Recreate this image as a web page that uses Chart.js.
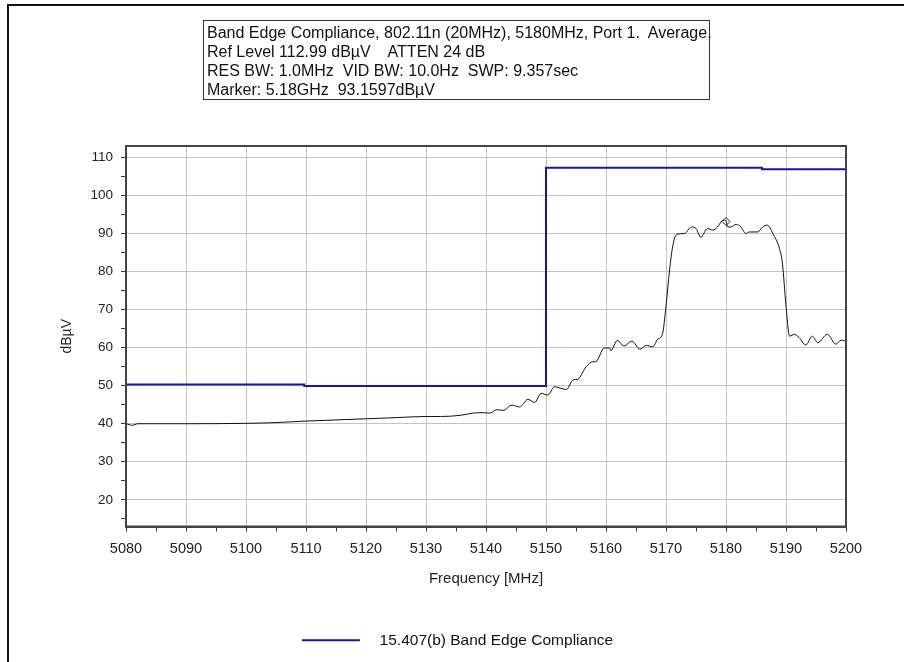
<!DOCTYPE html>
<html>
<head>
<meta charset="utf-8">
<script src="https://cdn.jsdelivr.net/npm/chart.js@4.4.1/dist/chart.umd.min.js"></script>
<style>
  html, body { margin: 0; padding: 0; background: #fff; }
  #wrap { position: relative; width: 904px; height: 662px; overflow: hidden; }
  #frame { position: absolute; left: 7px; top: 4px; width: 920px; height: 680px;
           border-top: 2px solid #111; border-left: 2px solid #111; }
  #info { position: absolute; left: 203px; top: 20px; width: 507px; height: 80px;
          box-sizing: border-box; border: 1px solid #333; padding: 2px 0 0 3px;
          font: 16px "Liberation Sans", Arial, sans-serif; line-height: 19px;
          color: #111; white-space: pre; }
  canvas { position: absolute; left: 0; top: 0; }
</style>
</head>
<body>
<div id="wrap">
  <div id="frame"></div>
  <canvas id="spectrum" width="904" height="662"></canvas>
  <div id="info"></div>
</div>
<script>
// header box of the analyser plot
const infoLines = [
  'Band Edge Compliance, 802.11n (20MHz), 5180MHz, Port 1.  Average.',
  'Ref Level 112.99 dBµV    ATTEN 24 dB',
  'RES BW: 1.0MHz  VID BW: 10.0Hz  SWP: 9.357sec',
  'Marker: 5.18GHz  93.1597dBµV'
];

const traceFreq = [
  5080, 5081, 5082, 5090, 5100, 5105, 5110, 5115, 5120, 5125,
  5130, 5132.4, 5135.7, 5137.9, 5139.5, 5140.7, 5141.8, 5142.9, 5144.3, 5145.6,
  5147.0, 5148.1, 5149.2, 5150.3, 5151.4, 5152.5, 5153.4, 5154.5, 5155.3, 5156.7,
  5157.8, 5158.3, 5159.7, 5160.6, 5160.8, 5161.9, 5163.0, 5164.3, 5165.7, 5166.7,
  5167.8, 5168.6, 5169.4, 5170.0, 5170.6, 5171.1, 5171.8, 5173.1, 5174.2, 5175.0,
  5175.8, 5176.9, 5177.8, 5178.6, 5179.3, 5179.9, 5180.3, 5180.8, 5181.7, 5182.5,
  5183.3, 5183.9, 5185.3, 5186.1, 5186.9, 5187.8, 5188.9, 5189.4, 5190.0, 5190.6,
  5191.4, 5192.2, 5193.3, 5194.4, 5195.3, 5196.9, 5198.3, 5199.2, 5200
];
const traceLevel = [
  40.0, 39.6, 40.0, 40.0, 40.1, 40.3, 40.7, 41.0, 41.3, 41.6,
  41.9, 41.9, 42.2, 42.8, 42.9, 42.8, 43.7, 43.5, 44.9, 44.4,
  46.4, 45.6, 48.0, 47.5, 49.7, 49.3, 49.0, 51.5, 51.7, 55.0,
  56.3, 56.3, 59.9, 59.9, 59.2, 61.9, 60.4, 61.7, 59.6, 60.6,
  60.2, 62.2, 63.5, 70.9, 80.4, 86.5, 89.8, 90.0, 91.7, 91.3,
  89.0, 91.3, 90.9, 91.7, 93.3, 93.5, 91.7, 91.7, 92.4, 91.7,
  90.0, 90.4, 90.4, 91.7, 92.2, 90.0, 86.1, 82.2, 70.9, 63.0,
  63.5, 62.6, 60.7, 63.0, 61.3, 63.5, 60.9, 62.0, 61.7
];

// 15.407(b) limit line
const limitFreq = [5080, 5109.7, 5109.7, 5150, 5150, 5186, 5186, 5200];
const limitLevel = [50.3, 50.3, 49.9, 49.9, 107.3, 107.3, 106.9, 106.9];

// peak marker
const markerFreq = [5180];
const markerLevel = [93.16];

const limitLabel = '15.407(b) Band Edge Compliance';
const xLabels = [5080, 5090, 5100, 5110, 5120, 5130, 5140, 5150, 5160, 5170, 5180, 5190, 5200];
const yLabels = [20, 30, 40, 50, 60, 70, 80, 90, 100, 110];

document.getElementById('info').textContent = infoLines.join('\n');

const pts = (xs, ys) => xs.map((x, i) => ({ x: x, y: ys[i] }));

// major labels every 10, minor ticks half way between
function withMinor(list, lo, hi) {
  const out = [];
  list.forEach(v => {
    if (v - 5 >= lo && !out.includes(v - 5)) out.push(v - 5);
    out.push(v);
    if (v + 5 <= hi) out.push(v + 5);
  });
  return [...new Set(out)].sort((a, b) => a - b).map(v => ({ value: v }));
}

// legend sample: line with blank room on the left and right
const legendMark = document.createElement('canvas');
legendMark.width = 139;
legendMark.height = 4;
const lm = legendMark.getContext('2d');
lm.strokeStyle = '#1a1a80';
lm.lineWidth = 2;
lm.beginPath();
lm.moveTo(69, 2);
lm.lineTo(127, 2);
lm.stroke();

const plotFrame = {
  id: 'plotFrame',
  afterDraw(chart) {
    const { ctx, chartArea: a } = chart;
    ctx.save();
    ctx.strokeStyle = '#444';
    ctx.lineWidth = 2;
    ctx.strokeRect(a.left, a.top, a.right - a.left, a.bottom - a.top);
    ctx.restore();
  }
};

const gridColor = c => (c.tick && c.tick.value % 10 === 0) ? '#c4c4c4' : 'rgba(0,0,0,0)';
const font = 'Liberation Sans, Arial, sans-serif';

const ctx = document.getElementById('spectrum');
new Chart(ctx, {
  type: 'line',
  data: {
    datasets: [
      {
        label: limitLabel,
        data: pts(limitFreq, limitLevel),
        borderColor: '#1717a6',
        borderWidth: 2,
        pointRadius: 0,
        tension: 0
      },
      {
        label: 'trace',
        data: pts(traceFreq, traceLevel),
        borderColor: '#111',
        borderWidth: 1,
        pointRadius: 0,
        cubicInterpolationMode: 'monotone'
      },
      {
        label: 'marker',
        data: pts(markerFreq, markerLevel),
        showLine: false,
        pointStyle: 'rectRot',
        pointRadius: 4,
        borderWidth: 1,
        borderColor: '#222',
        backgroundColor: 'rgba(0,0,0,0)'
      }
    ]
  },
  options: {
    responsive: false,
    animation: false,
    layout: { padding: { left: 0, right: 58, top: 146, bottom: 4 } },
    plugins: {
      tooltip: { enabled: false },
      legend: {
        display: true,
        position: 'bottom',
        labels: {
          filter: item => item.datasetIndex === 0,
          usePointStyle: true,
          pointStyle: legendMark,
          pointStyleWidth: 139,
          padding: 10,
          color: '#111',
          font: { family: font, size: 15.5 }
        }
      }
    },
    scales: {
      x: {
        type: 'linear',
        min: 5080,
        max: 5200,
        afterBuildTicks: s => { s.ticks = withMinor(xLabels, 5080, 5200); },
        afterFit: s => { s.height = 96; },
        ticks: {
          autoSkip: false,
          maxRotation: 0,
          padding: 9,
          color: '#222',
          font: { family: font, size: 14.5 },
          callback: v => (v % 10 === 0 ? String(v) : '')
        },
        grid: { color: gridColor, tickColor: '#333', tickLength: 5, lineWidth: 1 },
        border: { color: '#444', width: 2 },
        title: {
          display: true,
          text: 'Frequency [MHz]',
          color: '#222',
          font: { family: font, size: 15 },
          padding: { top: 10, bottom: 35 }
        }
      },
      y: {
        min: 12.99,
        max: 112.99,
        afterBuildTicks: s => { s.ticks = withMinor(yLabels, 13, 112.99); },
        afterFit: s => { s.width = 126; },
        ticks: {
          autoSkip: false,
          padding: 8,
          color: '#222',
          font: { family: font, size: 13.5 },
          callback: v => (v % 10 === 0 ? String(v) : '')
        },
        grid: { color: gridColor, tickColor: '#333', tickLength: 5, lineWidth: 1 },
        border: { color: '#444', width: 2 },
        title: {
          display: true,
          text: 'dBµV',
          color: '#222',
          font: { family: font, size: 14 },
          padding: { top: 59, bottom: 0 }
        }
      }
    }
  },
  plugins: [plotFrame]
});
</script>
</body>
</html>
